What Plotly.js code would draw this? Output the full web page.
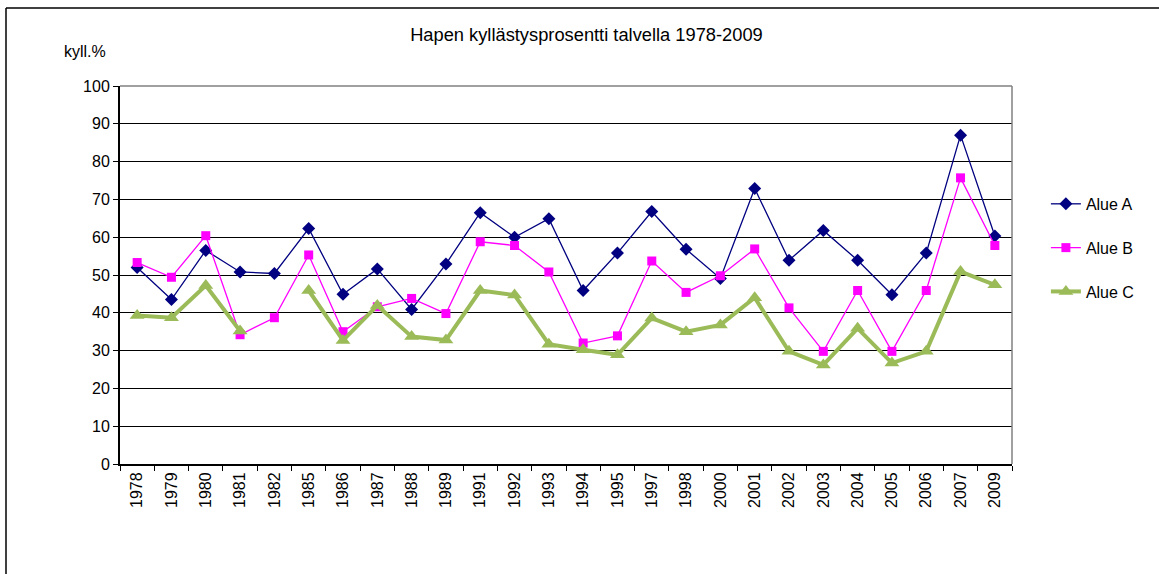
<!DOCTYPE html>
<html>
<head>
<meta charset="utf-8">
<script src="https://cdn.plot.ly/plotly-3.0.1.min.js"></script>
<style>
  html, body { margin: 0; padding: 0; background: #fff; }
  #chart { width: 1159px; height: 574px; }
</style>
</head>
<body>
<div id="chart"></div>
<script>
const years = ["1978","1979","1980","1981","1982","1985","1986","1987","1988","1989",
  "1991","1992","1993","1994","1995","1997","1998","2000","2001","2002",
  "2003","2004","2005","2006","2007","2009"];

const alueA = [52, 43.5, 56.5, 50.8, 50.4, 62.3, 44.9, 51.6, 40.9, 52.9,
  66.5, 60, 64.9, 45.9, 55.8, 66.8, 56.8, 49.1, 72.9, 53.9,
  61.8, 53.9, 44.8, 55.8, 87, 60.3];

const alueB = [53.3, 49.4, 60.4, 34.2, 38.7, 55.3, 35, 41.6, 43.8, 39.8,
  58.8, 57.8, 50.8, 32, 33.9, 53.7, 45.4, 49.8, 56.9, 41.3,
  29.8, 45.9, 29.8, 45.9, 75.7, 57.8];

const alueC = [39.3, 38.7, 47.2, 35.2, null, 45.9, 32.7, 41.9, 33.7, 32.8,
  45.9, 44.7, 31.7, 30.2, 28.9, 38.6, 35, 36.8, 44, 29.8,
  26.2, 35.9, 26.7, 29.8, 50.9, 47.4];

const seriesNames = ["Alue A", "Alue B", "Alue C"];
const titleText = "Hapen kyllästysprosentti talvella 1978-2009";
const yUnit = "kyll.%";

const FONT = "Liberation Sans, Arial, sans-serif";

const traces = [
  {
    x: years, y: alueA, name: seriesNames[0], type: "scatter", mode: "lines+markers",
    line: { color: "#000080", width: 1.3 },
    marker: { symbol: "diamond", size: 10, color: "#000080" },
    legendgroup: "a"
  },
  {
    x: years, y: alueB, name: seriesNames[1], type: "scatter", mode: "lines+markers",
    line: { color: "#FF00FF", width: 1.3 },
    marker: { symbol: "square", size: 9, color: "#FF00FF" },
    legendgroup: "b"
  },
  {
    x: years, y: alueC, name: seriesNames[2], type: "scatter", mode: "lines+markers",
    connectgaps: false,
    line: { color: "#9BBB59", width: 4 },
    marker: { symbol: "triangle-up", size: 13, color: "#9BBB59" },
    legendgroup: "c"
  }
];

const layout = {
  width: 1159, height: 574,
  margin: { l: 120, r: 147, t: 86, b: 110, pad: 0 },
  paper_bgcolor: "#fff", plot_bgcolor: "#fff",
  font: { family: FONT, size: 16, color: "#000" },
  title: {
    text: titleText,
    font: { family: FONT, size: 18.3, color: "#000" },
    xref: "container", x: 0.506, xanchor: "center",
    yref: "container", y: 1 - 35/574, yanchor: "middle"
  },
  showlegend: true,
  legend: {
    x: 1.038, xanchor: "left", y: 0.733, yanchor: "top",
    font: { family: FONT, size: 16, color: "#000" },
    tracegroupgap: 20, bgcolor: "rgba(0,0,0,0)"
  },
  xaxis: {
    type: "category",
    range: [-0.5, 25.5],
    tickangle: -90,
    ticks: "outside", ticklen: 5, tickcolor: "#000", tickwidth: 1,
    tickson: "boundaries",
    showgrid: false,
    showline: true, linecolor: "#000", linewidth: 2,
    tickfont: { family: FONT, size: 16, color: "#000" },
    fixedrange: true, zeroline: false
  },
  yaxis: {
    range: [0, 100], dtick: 10, tick0: 0,
    ticks: "outside", ticklen: 5, tickcolor: "#000", tickwidth: 1,
    showgrid: true, gridcolor: "#000", gridwidth: 1,
    showline: true, linecolor: "#000", linewidth: 2,
    zeroline: false,
    tickfont: { family: FONT, size: 16, color: "#000" },
    fixedrange: true
  },
  annotations: [
    {
      text: yUnit, xref: "paper", yref: "paper",
      x: (85 - 120) / 892, y: (464 - 52) / 378,
      xanchor: "center", yanchor: "middle", showarrow: false,
      font: { family: FONT, size: 16, color: "#000" }
    }
  ],
  shapes: [
    { type: "line", xref: "paper", yref: "paper", x0: 0, x1: 1, y0: 1, y1: 1,
      line: { color: "#808080", width: 1.5 } },
    { type: "line", xref: "paper", yref: "paper", x0: 1, x1: 1, y0: 0, y1: 1,
      line: { color: "#808080", width: 1.5 } },
    { type: "line", xref: "paper", yref: "paper",
      x0: (6 - 120) / 892, x1: (1170 - 120) / 892, y0: (464 - 8) / 378, y1: (464 - 8) / 378,
      line: { color: "#000", width: 1.5 } },
    { type: "line", xref: "paper", yref: "paper",
      x0: (6 - 120) / 892, x1: (6 - 120) / 892, y0: (464 - 8) / 378, y1: (464 - 590) / 378,
      line: { color: "#000", width: 1.5 } }
  ]
};

Plotly.newPlot("chart", traces, layout, { displayModeBar: false, staticPlot: true });
</script>
</body>
</html>
